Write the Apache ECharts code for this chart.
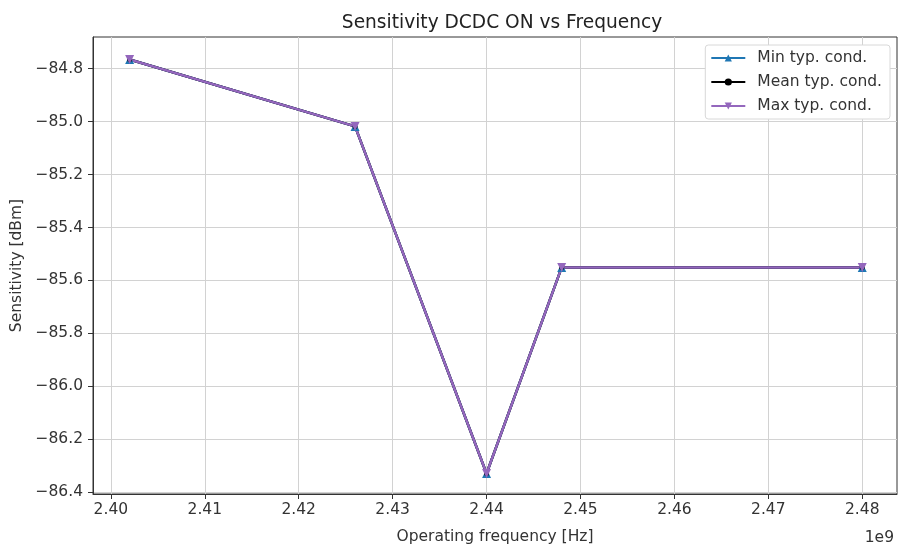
<!DOCTYPE html>
<html>
<head>
<meta charset="utf-8">
<style>
  html, body { margin: 0; padding: 0; background: #fff; }
  #main { width: 898px; height: 550px; }
</style>
<script src="https://cdn.jsdelivr.net/npm/echarts@6/dist/echarts.min.js"></script>
</head>
<body>
<div id="main"></div>
<script>
// frequency in units of 1e9 Hz (axis offset label "1e9")
var freq = [2.402, 2.426, 2.440, 2.448, 2.480];
var minCond = [-84.765, -85.018, -86.330, -85.551, -85.551];
var meanCond = [-84.765, -85.018, -86.330, -85.551, -85.551];
var maxCond = [-84.765, -85.018, -86.330, -85.551, -85.551];
var xTicks = [2.40, 2.41, 2.42, 2.43, 2.44, 2.45, 2.46, 2.47, 2.48];
var yTicks = [-86.4, -86.2, -86.0, -85.8, -85.6, -85.4, -85.2, -85.0, -84.8];

function pairs(xs, ys) {
  return xs.map(function (x, i) { return [x, ys[i]]; });
}

var font = 'DejaVu Sans';
var fs = 15.5;
var myChart = echarts.init(document.getElementById('main'));
myChart.setOption({
  animation: false,
  title: {
    text: 'Sensitivity DCDC ON vs Frequency',
    left: 497, top: 9, textAlign: 'center',
    textStyle: { fontFamily: font, fontSize: 18.6, fontWeight: 'normal', color: '#222' }
  },
  grid: {
    left: 93, right: 1, top: 37, bottom: 52,
    show: true, borderColor: '#333', borderWidth: 1
  },
  legend: {
    right: 8, top: 45, orient: 'vertical',
    itemWidth: 34, itemHeight: 9, itemGap: 8,
    padding: [5, 8, 5, 5],
    backgroundColor: '#fff', borderColor: '#d8d8d8', borderWidth: 1, borderRadius: 3,
    textStyle: { fontFamily: font, fontSize: fs, color: '#333', padding: [0, 0, 0, 7] },
    data: ['Min typ. cond.', 'Mean typ. cond.', 'Max typ. cond.']
  },
  xAxis: {
    type: 'value',
    min: 2.3981, max: 2.4837,
    name: 'Operating frequency [Hz]',
    nameLocation: 'middle', nameGap: 35,
    nameTextStyle: { fontFamily: font, fontSize: fs, color: '#333' },
    axisLine: { show: true, lineStyle: { color: '#333' } },
    axisTick: { show: true, length: 5, customValues: xTicks, lineStyle: { color: '#333' } },
    axisLabel: {
      customValues: xTicks, margin: 8,
      fontFamily: font, fontSize: fs, color: '#333',
      formatter: function (v) { return v.toFixed(2); }
    },
    splitLine: { show: true, lineStyle: { color: '#d2d2d2', width: 1 } }
  },
  yAxis: {
    type: 'value',
    min: -86.4075, max: -84.68,
    name: 'Sensitivity [dBm]',
    nameLocation: 'middle', nameGap: 68, nameRotate: 90,
    nameTextStyle: { fontFamily: font, fontSize: fs, color: '#333' },
    axisLine: { show: true, lineStyle: { color: '#333' } },
    axisTick: { show: true, length: 5, customValues: yTicks, lineStyle: { color: '#333' } },
    axisLabel: {
      customValues: yTicks, margin: 10,
      fontFamily: font, fontSize: fs, color: '#333',
      formatter: function (v) { return '\u2212' + Math.abs(v).toFixed(1); }
    },
    splitLine: { show: true, lineStyle: { color: '#d2d2d2', width: 1 } }
  },
  series: [
    {
      name: 'Min typ. cond.', type: 'line',
      data: pairs(freq, minCond),
      symbol: 'triangle', symbolSize: 9,
      itemStyle: { color: '#1f77b4' },
      lineStyle: { color: '#1f77b4', width: 2.5 }
    },
    {
      name: 'Mean typ. cond.', type: 'line',
      data: pairs(freq, meanCond),
      symbol: 'circle', symbolSize: 5,
      itemStyle: { color: '#000' },
      lineStyle: { color: '#000', width: 2.5 }
    },
    {
      name: 'Max typ. cond.', type: 'line',
      data: pairs(freq, maxCond),
      symbol: 'triangle', symbolSize: 9, symbolRotate: 180,
      itemStyle: { color: '#9467bd' },
      lineStyle: { color: '#9467bd', width: 2.5 }
    }
  ],
  graphic: [{
    type: 'text', right: 4, top: 530,
    style: { text: '1e9', fontFamily: font, fontSize: fs, fill: '#333' }
  }]
});
</script>
</body>
</html>
